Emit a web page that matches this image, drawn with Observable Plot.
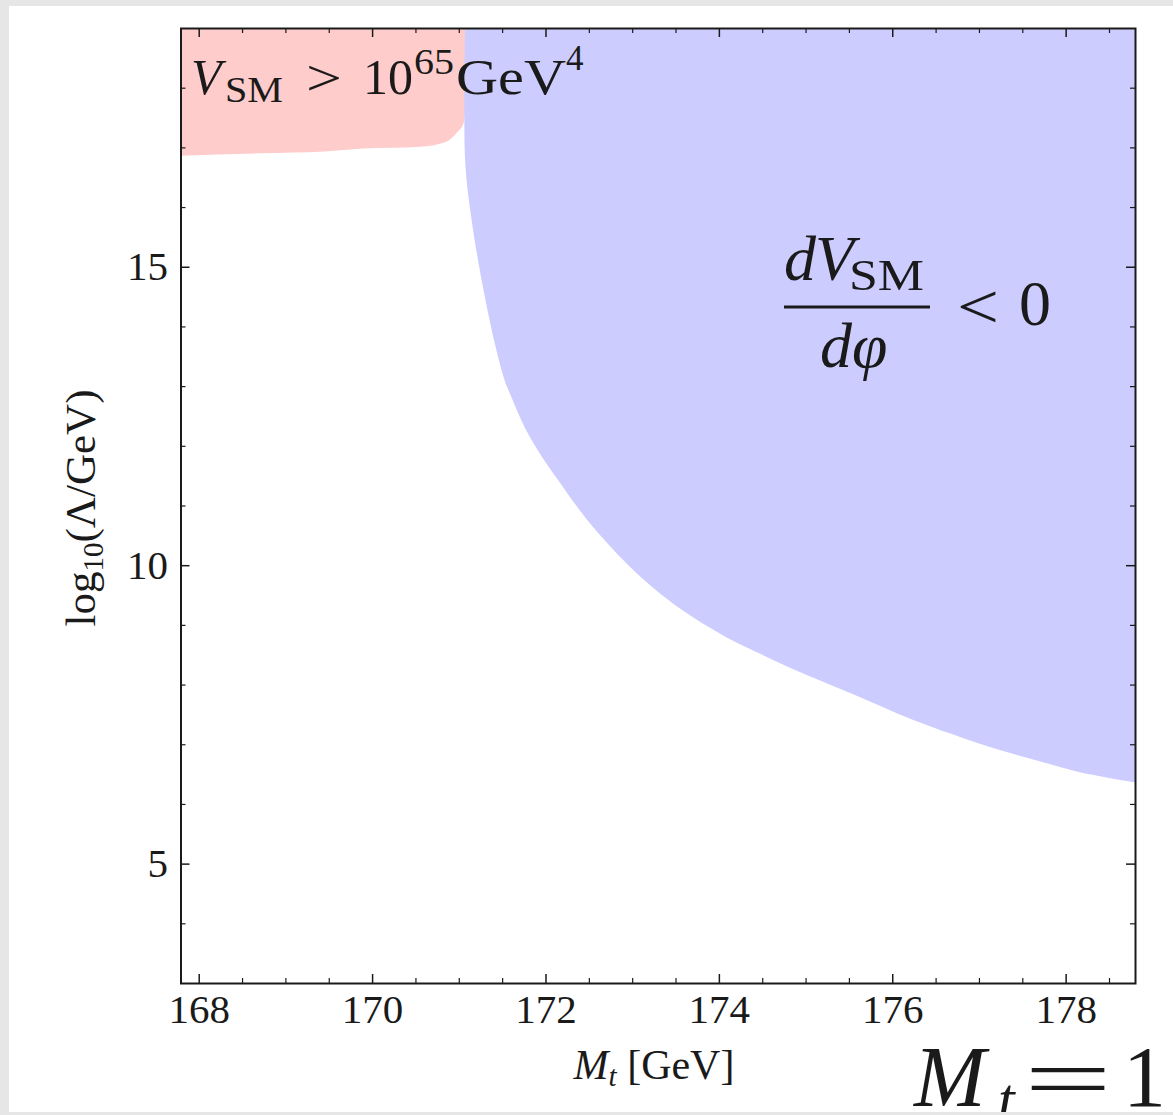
<!DOCTYPE html>
<html><head><meta charset="utf-8">
<script src="https://cdn.jsdelivr.net/npm/d3@7"></script>
<script src="https://cdn.jsdelivr.net/npm/@observablehq/plot@0.6"></script>
<style>
html,body{margin:0;padding:0;background:#e6e6e6;}
#panel{position:absolute;left:9px;top:6px;width:1164px;height:1106px;background:#fff;overflow:hidden;}
#panel svg{position:absolute;left:-9px;top:-6px;max-width:none;}
</style></head><body><div id="panel"></div>
<script>
// ---- data ----
const xDomain = [167.79, 178.8];
const yDomain = [3, 19];
const xMajorTicks = [168, 170, 172, 174, 176, 178];
const xMinorTicks = [168.5, 169, 169.5, 170.5, 171, 171.5, 172.5, 173, 173.5, 174.5, 175, 175.5, 176.5, 177, 177.5, 178.5];
const yMajorTicks = [5, 10, 15];
const yMinorTicks = [4, 6, 7, 8, 9, 11, 12, 13, 14, 16, 17, 18];

// boundary of the region V_SM > 10^65 GeV^4 (lower edge)
const redEdgeX = [167.79, 168.72, 169.45, 169.90, 170.56, 170.83, 170.98, 171.06, 171.073];
const redEdgeY = [16.86, 16.90, 16.93, 16.98, 17.01, 17.08, 17.25, 17.42, 17.60];

// boundary of the region dV_SM/dphi < 0 (left edge)
const blueEdgeY = [19, 16.80, 15.91, 14.78, 13.61, 13.10, 12.89, 12.25, 11.70, 11.39, 10.99, 10.65, 10.03, 9.53, 9.13, 8.79, 8.52, 8.26, 8.02, 7.79, 7.50, 7.20, 7.01, 6.84, 6.68, 6.53, 6.36];
const blueEdgeX = [171.073, 171.073, 171.136, 171.263, 171.433, 171.528, 171.586, 171.782, 172.013, 172.163, 172.359, 172.544, 172.936, 173.317, 173.698, 174.090, 174.471, 174.852, 175.244, 175.624, 176.086, 176.628, 177.009, 177.39, 177.782, 178.163, 178.8];

const redRows = redEdgeX.map((x, i) => ({x, y: redEdgeY[i]}));
const blueRows = blueEdgeY.map((y, i) => ({y, x: blueEdgeX[i]}));

// ---- layout ----
const W = 1173, H = 1115, mL = 180.5, mR = 38, mT = 28, mB = 132;
const fw = W - mL - mR, fh = H - mT - mB;
const ink = "#1a1a1a";
const serif = "'Liberation Serif', 'DejaVu Serif', serif";
const majL = 9, minL = 5;

const plot = Plot.plot({
  width: W, height: H,
  marginLeft: mL, marginRight: mR, marginTop: mT, marginBottom: mB,
  x: {domain: xDomain},
  y: {domain: yDomain},
  style: {fontFamily: serif, color: ink, background: "transparent", overflow: "visible", maxWidth: "none"},
  marks: [
    Plot.areaY(redRows, {x: "x", y1: "y", y2: () => yDomain[1], fill: "#ffcccc", curve: "monotone-x"}),
    Plot.areaX(blueRows, {y: "y", x1: "x", x2: () => xDomain[1], fill: "#ccccff", curve: "catmull-rom"}),
    // inward ticks on all four sides
    Plot.tickX(xMajorTicks, {x: d => d, insetTop: fh - majL, stroke: ink, strokeWidth: 1.5}),
    Plot.tickX(xMajorTicks, {x: d => d, insetBottom: fh - majL, stroke: ink, strokeWidth: 1.5}),
    Plot.tickX(xMinorTicks, {x: d => d, insetTop: fh - minL, stroke: ink, strokeWidth: 1.2}),
    Plot.tickX(xMinorTicks, {x: d => d, insetBottom: fh - minL, stroke: ink, strokeWidth: 1.2}),
    Plot.tickY(yMajorTicks, {y: d => d, insetRight: fw - majL, stroke: ink, strokeWidth: 1.5}),
    Plot.tickY(yMajorTicks, {y: d => d, insetLeft: fw - majL, stroke: ink, strokeWidth: 1.5}),
    Plot.tickY(yMinorTicks, {y: d => d, insetRight: fw - minL, stroke: ink, strokeWidth: 1.2}),
    Plot.tickY(yMinorTicks, {y: d => d, insetLeft: fw - minL, stroke: ink, strokeWidth: 1.2}),
    Plot.frame({stroke: ink, strokeWidth: 2}),
    Plot.axisX({ticks: xMajorTicks, tickSize: 0, tickPadding: 10, fontSize: 41, label: null, fontFamily: serif}),
    Plot.axisY({ticks: yMajorTicks, tickSize: 0, tickPadding: 13, fontSize: 41, label: null, fontFamily: serif})
  ]
});
document.getElementById("panel").appendChild(plot);

// ---- math-style text labels ----
const svg = d3.select(plot);
const g = svg.append("g").attr("font-family", serif).attr("fill", ink).attr("text-anchor", "start");

function pieces(list) {
  list.forEach(p => {
    const t = g.append("text").attr("x", p.x).attr("y", p.y).attr("font-size", p.s).text(p.t);
    if (p.i) t.attr("font-style", "italic");
    if (p.len) t.attr("textLength", p.len).attr("lengthAdjust", "spacingAndGlyphs");
  });
}

// V_SM > 10^65 GeV^4
pieces([
  {t: "V", x: 191, y: 94, s: 50, i: true},
  {t: "SM", x: 225, y: 102, s: 35, len: 58},
  {t: ">", x: 306, y: 95, s: 50, len: 36},
  {t: "10", x: 363, y: 94, s: 50},
  {t: "65", x: 414, y: 74, s: 35, len: 40},
  {t: "GeV", x: 456, y: 94, s: 50, len: 110},
  {t: "4", x: 566, y: 70, s: 35}
]);

// dV_SM / dφ < 0
pieces([
  {t: "d", x: 784, y: 280, s: 64, i: true},
  {t: "V", x: 815, y: 280, s: 64, i: true},
  {t: "SM", x: 849, y: 290, s: 45, len: 75},
  {t: "d", x: 820, y: 367, s: 64, i: true},
  {t: "φ", x: 852, y: 367, s: 64, i: true},
  {t: "<", x: 957, y: 328, s: 64, len: 42},
  {t: "0", x: 1019, y: 325, s: 64}
]);
g.append("line").attr("x1", 784).attr("x2", 930).attr("y1", 307).attr("y2", 307)
  .attr("stroke", ink).attr("stroke-width", 3);

// M_t = 1 (cut off at the right edge, as in the reference)
pieces([
  {t: "M", x: 914, y: 1106, s: 86, i: true},
  {t: "t", x: 998, y: 1119, s: 60, i: true},
  {t: "=", x: 1024, y: 1108, s: 86, len: 88},
  {t: "1", x: 1123, y: 1106, s: 86}
]);

// axis labels
const xl = g.append("text").attr("x", 654).attr("y", 1079).attr("text-anchor", "middle").attr("font-size", 42);
xl.append("tspan").attr("font-style", "italic").text("M");
xl.append("tspan").attr("font-style", "italic").attr("font-size", 29).attr("dy", 7).text("t");
xl.append("tspan").attr("dy", -7).text("\u00A0[GeV]");

const yl = g.append("text").attr("transform", "translate(95,508) rotate(-90)").attr("text-anchor", "middle").attr("font-size", 43);
yl.append("tspan").text("log");
yl.append("tspan").attr("font-size", 29).attr("dy", 8).text("10");
yl.append("tspan").attr("dy", -8).text("(Λ/GeV)");
</script>
</body></html>
